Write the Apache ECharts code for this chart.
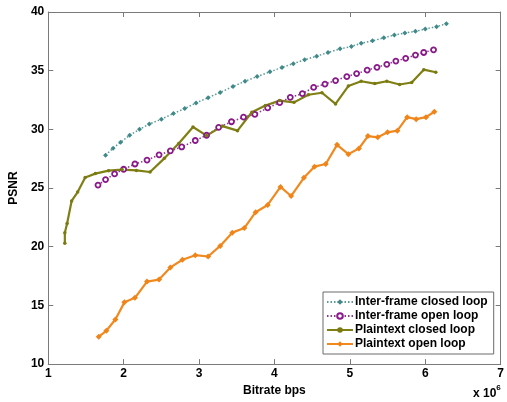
<!DOCTYPE html>
<html>
<head>
<meta charset="utf-8">
<script src="https://cdn.jsdelivr.net/npm/echarts@6/dist/echarts.min.js"></script>
<style>
  html, body { margin: 0; padding: 0; background: #fff; }
  #chart { width: 507px; height: 402px; }
</style>
</head>
<body>
<div id="chart"></div>
<script>
// bitrate in units of 1e6 bps
const interClosedX = [1.76, 1.86, 1.96, 2.08, 2.21, 2.34, 2.50, 2.66, 2.81, 2.96, 3.12, 3.28, 3.45, 3.61, 3.77, 3.94, 4.10, 4.25, 4.40, 4.56, 4.71, 4.87, 5.02, 5.15, 5.30, 5.45, 5.59, 5.73, 5.87, 6.00, 6.15, 6.28];
const interClosedY = [27.8, 28.4, 28.9, 29.5, 30.0, 30.45, 30.87, 31.35, 31.77, 32.25, 32.7, 33.15, 33.65, 34.1, 34.5, 34.9, 35.28, 35.6, 35.93, 36.24, 36.55, 36.86, 37.06, 37.34, 37.54, 37.8, 38.04, 38.21, 38.35, 38.55, 38.75, 39.0];

const interOpenX = [1.66, 1.76, 1.88, 2.00, 2.15, 2.31, 2.47, 2.62, 2.77, 2.95, 3.10, 3.26, 3.43, 3.59, 3.74, 3.91, 4.07, 4.21, 4.37, 4.52, 4.67, 4.81, 4.96, 5.09, 5.23, 5.36, 5.49, 5.61, 5.74, 5.87, 5.98, 6.11];
const interOpenY = [25.25, 25.72, 26.2, 26.6, 27.05, 27.38, 27.83, 28.17, 28.5, 29.05, 29.5, 30.17, 30.65, 31.04, 31.27, 31.83, 32.28, 32.73, 33.04, 33.57, 33.86, 34.16, 34.5, 34.75, 35.04, 35.29, 35.54, 35.82, 36.05, 36.33, 36.55, 36.78];

const plainClosedX = [1.22, 1.22, 1.25, 1.31, 1.39, 1.49, 1.625, 1.80, 1.98, 2.17, 2.35, 2.54, 2.73, 2.92, 3.10, 3.31, 3.51, 3.70, 3.88, 4.07, 4.26, 4.45, 4.63, 4.81, 4.98, 5.15, 5.33, 5.49, 5.66, 5.82, 5.98, 6.14];
const plainClosedY = [20.3, 21.2, 21.98, 23.9, 24.66, 25.9, 26.23, 26.48, 26.57, 26.5, 26.37, 27.53, 28.79, 30.2, 29.47, 30.28, 29.89, 31.46, 32.03, 32.45, 32.3, 32.95, 33.12, 32.17, 33.69, 34.1, 33.9, 34.1, 33.82, 33.99, 35.09, 34.87];

const plainOpenX = [1.67, 1.77, 1.89, 2.01, 2.15, 2.31, 2.47, 2.62, 2.78, 2.95, 3.12, 3.28, 3.44, 3.60, 3.75, 3.91, 4.08, 4.22, 4.39, 4.53, 4.68, 4.83, 4.98, 5.12, 5.24, 5.37, 5.50, 5.63, 5.76, 5.88, 6.01, 6.12];
const plainOpenY = [12.34, 12.84, 13.8, 15.26, 15.65, 17.03, 17.2, 18.24, 18.89, 19.28, 19.17, 20.07, 21.2, 21.59, 22.94, 23.56, 25.1, 24.32, 25.87, 26.82, 27.05, 28.68, 27.89, 28.37, 29.43, 29.32, 29.75, 29.89, 31.04, 30.87, 31.04, 31.5];

const seriesNames = ["Inter-frame closed loop", "Inter-frame open loop", "Plaintext closed loop", "Plaintext open loop"];
const xTicks = [1, 2, 3, 4, 5, 6, 7];
const yTicks = [10, 15, 20, 25, 30, 35, 40];

function pairs(xs, ys) {
  return xs.map((x, i) => [x, ys[i]]);
}

const FONT = "Liberation Sans, Arial, sans-serif";
const axisColor = "#7a7a7a";

const chart = echarts.init(document.getElementById("chart"));

const baseX = {
  type: "value",
  min: xTicks[0],
  max: xTicks[xTicks.length - 1],
  interval: 1,
  splitLine: { show: false },
  axisLine: { show: true, onZero: false, lineStyle: { color: axisColor, width: 1 } },
  axisTick: { show: true, inside: true, length: 5, lineStyle: { color: axisColor } },
};
const baseY = {
  type: "value",
  min: yTicks[0],
  max: yTicks[yTicks.length - 1],
  interval: 5,
  splitLine: { show: false },
  axisLine: { show: true, onZero: false, lineStyle: { color: axisColor, width: 1 } },
  axisTick: { show: true, inside: true, length: 5, lineStyle: { color: axisColor } },
};

const option = {
  animation: false,
  backgroundColor: "#fff",
  grid: { left: 43, right: 6, top: 12, bottom: 34, containLabel: false },
  xAxis: [
    Object.assign({}, baseX, {
      position: "bottom",
      axisLabel: { color: "#000", fontFamily: FONT, fontWeight: "bold", fontSize: 12, margin: 4 },
      name: "Bitrate bps",
      nameLocation: "middle",
      nameGap: 13,
      nameTextStyle: { color: "#000", fontFamily: FONT, fontWeight: "bold", fontSize: 12 },
    }),
    Object.assign({}, baseX, { position: "top", axisLabel: { show: false } }),
  ],
  yAxis: [
    Object.assign({}, baseY, {
      position: "left",
      axisLabel: { color: "#000", fontFamily: FONT, fontWeight: "bold", fontSize: 12, margin: 4 },
      name: "PSNR",
      nameLocation: "middle",
      nameRotate: 90,
      nameGap: 26,
      nameTextStyle: { color: "#000", fontFamily: FONT, fontWeight: "bold", fontSize: 12 },
    }),
    Object.assign({}, baseY, { position: "right", axisLabel: { show: false } }),
  ],
  legend: {
    orient: "vertical",
    left: 323,
    top: 292,
    width: 167,
    backgroundColor: "#fff",
    borderColor: "#6a6a6a",
    borderWidth: 1,
    borderRadius: 0,
    padding: [4, 6, 4, 3],
    itemGap: 2,
    itemWidth: 26,
    itemHeight: 7,
    textStyle: { color: "#000", fontFamily: FONT, fontWeight: "bold", fontSize: 12, padding: [0, 0, 0, -3] },
    data: seriesNames,
  },
  series: [
    {
      name: seriesNames[0],
      type: "line",
      data: pairs(interClosedX, interClosedY),
      symbol: "diamond",
      symbolSize: 5,
      itemStyle: { color: "#3f8a88" },
      lineStyle: { color: "#5a9a98", width: 1.5, type: [1.5, 2] },
    },
    {
      name: seriesNames[1],
      type: "line",
      data: pairs(interOpenX, interOpenY),
      symbol: "circle",
      symbolSize: 5,
      itemStyle: { color: "#fff", borderColor: "#8a1a8a", borderWidth: 1.8 },
      lineStyle: { color: "#8a3a8a", width: 1.5, type: [1.5, 2] },
    },
    {
      name: seriesNames[2],
      type: "line",
      data: pairs(plainClosedX, plainClosedY),
      symbol: "circle",
      symbolSize: 3.5,
      itemStyle: { color: "#7a7a10" },
      lineStyle: { color: "#7f7f14", width: 2.2 },
    },
    {
      name: seriesNames[3],
      type: "line",
      data: pairs(plainOpenX, plainOpenY),
      symbol: "diamond",
      symbolSize: 6,
      itemStyle: { color: "#f08418" },
      lineStyle: { color: "#f08a20", width: 2.2 },
    },
  ],
  graphic: [
    {
      type: "text",
      left: 473,
      top: 384,
      style: {
        text: "{b|x 10}{s|6}",
        rich: {
          b: { fontFamily: FONT, fontWeight: "bold", fontSize: 12, fill: "#000", verticalAlign: "bottom" },
          s: { fontFamily: FONT, fontWeight: "bold", fontSize: 8, fill: "#000", verticalAlign: "top", padding: [0, 0, 8, 0] },
        },
      },
    },
  ],
};

chart.setOption(option);
</script>
</body>
</html>
